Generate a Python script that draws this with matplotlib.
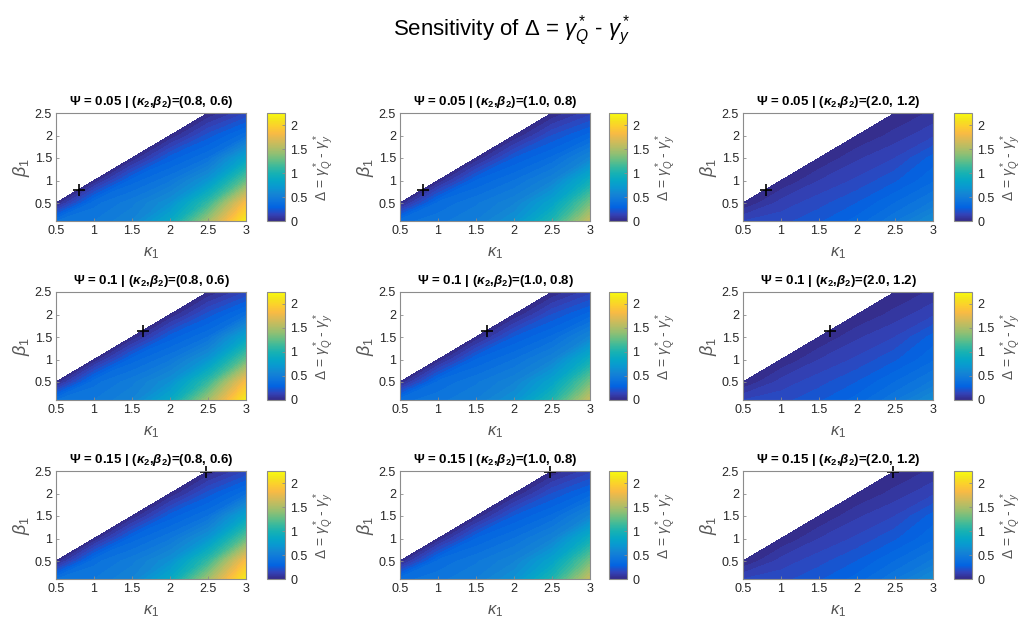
import numpy as np
import matplotlib
matplotlib.use("Agg")
import matplotlib.pyplot as plt
import matplotlib.tri as mtri
from matplotlib.colors import LinearSegmentedColormap

plt.rcParams['font.family'] = ['Liberation Sans', 'DejaVu Sans']
plt.rcParams['mathtext.fontset'] = 'custom'
plt.rcParams['mathtext.rm'] = 'Liberation Sans'
plt.rcParams['mathtext.it'] = 'Liberation Sans:italic'
plt.rcParams['mathtext.bf'] = 'Liberation Sans:bold:italic'
plt.rcParams['mathtext.sf'] = 'Liberation Sans:bold'

nan = np.nan

# grid
kappa1 = [0.5, 1.0, 1.5, 2.0, 2.5, 3.0]
beta1 = [0.1, 0.5, 1.0, 1.5, 2.0, 2.5]

# Delta values, rows = beta1, cols = kappa1 (blank above the diagonal)
deltaA = [[0.40, 0.45, 0.55, 0.85, 1.45, 2.15],
          [0.00, 0.38, 0.48, 0.65, 1.10, 1.85],
          [nan, 0.00, 0.32, 0.44, 0.68, 1.25],
          [nan, nan, 0.00, 0.27, 0.40, 0.80],
          [nan, nan, nan, 0.00, 0.22, 0.38],
          [nan, nan, nan, nan, 0.00, 0.15]]

deltaB = [[0.38, 0.43, 0.50, 0.66, 1.02, 1.60],
          [0.00, 0.36, 0.44, 0.54, 0.80, 1.30],
          [nan, 0.00, 0.30, 0.40, 0.54, 0.92],
          [nan, nan, 0.00, 0.25, 0.36, 0.56],
          [nan, nan, nan, 0.00, 0.20, 0.32],
          [nan, nan, nan, nan, 0.00, 0.13]]

deltaC = [[0.15, 0.18, 0.24, 0.32, 0.44, 0.62],
          [0.00, 0.12, 0.18, 0.25, 0.35, 0.46],
          [nan, 0.00, 0.10, 0.16, 0.24, 0.34],
          [nan, nan, 0.00, 0.09, 0.15, 0.27],
          [nan, nan, nan, 0.00, 0.07, 0.14],
          [nan, nan, nan, nan, 0.00, 0.06]]

psiValues = ["0.05", "0.1", "0.15"]
pairLabels = ["(0.8, 0.6)", "(1.0, 0.8)", "(2.0, 1.2)"]
columnData = [deltaA, deltaB, deltaC]
markerPos = [0.8, 1.64, 2.48]

parulaColors = [
    (0.2081, 0.1663, 0.5292), (0.1959, 0.2645, 0.7279), (0.0117, 0.3875, 0.8820),
    (0.0498, 0.4586, 0.8641), (0.0793, 0.5200, 0.8312), (0.0343, 0.5966, 0.8199),
    (0.0228, 0.6535, 0.7768), (0.0843, 0.6928, 0.7062), (0.2178, 0.7250, 0.6193),
    (0.3953, 0.7459, 0.5244), (0.5709, 0.7485, 0.4494), (0.7184, 0.7411, 0.3905),
    (0.8507, 0.7299, 0.3360), (0.9739, 0.7314, 0.2666), (0.9880, 0.8066, 0.1794),
    (0.9589, 0.8949, 0.1132), (0.9763, 0.9831, 0.0538)]
parula = LinearSegmentedColormap.from_list("parula", parulaColors)

cmax = 2.25
levels = np.linspace(0, cmax, 46)

fig = plt.figure(figsize=(10.24, 6.21), dpi=100)
W, H = 1024.0, 621.0

axLeft = [56, 400, 743]
cbLeft = [267, 609, 954]
axTop = [113, 292, 471]
axW, axH, cbW = 190, 108, 18

textColor = '#262626'
edgeColor = '#8c8c8c'


def buildTri(data):
    # split each grid cell along its lower-left / upper-right diagonal
    nb, nk = len(beta1), len(kappa1)
    xs, ys, zs, idx = [], [], [], {}
    for i in range(nb):
        for j in range(nk):
            if not np.isnan(data[i][j]):
                idx[(i, j)] = len(xs)
                xs.append(kappa1[j])
                ys.append(beta1[i])
                zs.append(data[i][j])
    tris = []
    for i in range(nb - 1):
        for j in range(nk - 1):
            for t in [[(i, j), (i, j + 1), (i + 1, j + 1)], [(i, j), (i + 1, j + 1), (i + 1, j)]]:
                if all(p in idx for p in t):
                    tris.append([idx[p] for p in t])
    return mtri.Triangulation(xs, ys, tris), np.array(zs)


for r in range(3):
    for c in range(3):
        bottom = 1 - (axTop[r] + axH) / H
        ax = fig.add_axes([axLeft[c] / W, bottom, axW / W, axH / H])
        tri, z = buildTri(columnData[c])
        ax.tricontourf(tri, z, levels=levels, cmap=parula, vmin=0, vmax=cmax)
        ax.plot(markerPos[r], markerPos[r], '+', color='k', ms=8, mew=1.2, clip_on=False)
        ax.set_xlim(0.5, 3)
        ax.set_ylim(0.1, 2.5)
        ax.set_xticks([0.5, 1, 1.5, 2, 2.5, 3])
        ax.set_xticklabels(['0.5', '1', '1.5', '2', '2.5', '3'])
        ax.set_yticks([0.5, 1, 1.5, 2, 2.5])
        ax.set_yticklabels(['0.5', '1', '1.5', '2', '2.5'])
        ax.tick_params(direction='in', length=2.5, width=0.6, colors=edgeColor,
                       labelcolor=textColor, labelsize=9, pad=3)
        for s in ax.spines.values():
            s.set_color(edgeColor)
            s.set_linewidth(0.8)
        ax.set_xlabel(r'$\kappa_1$', fontsize=12, color='#555555', labelpad=6)
        ax.set_ylabel(r'$\beta_1$', fontsize=13, color='#555555', labelpad=2)
        ax.set_title('Ψ = ' + psiValues[r] + r' | ($\mathbf{\kappa}_\mathsf{2}$,$\mathbf{\beta}_\mathsf{2}$)=' + pairLabels[c],
                     fontsize=9.5, fontweight='bold', color='k', pad=6)

        cax = fig.add_axes([cbLeft[c] / W, bottom, cbW / W, axH / H])
        cb = fig.colorbar(plt.cm.ScalarMappable(cmap=parula, norm=plt.Normalize(0, cmax)), cax=cax)
        cb.set_ticks([0, 0.5, 1, 1.5, 2])
        cb.set_ticklabels(['0', '0.5', '1', '1.5', '2'])
        cb.outline.set_edgecolor(edgeColor)
        cb.outline.set_linewidth(0.8)
        cax.tick_params(direction='in', length=2, width=0.6, colors=edgeColor,
                        labelcolor=textColor, labelsize=9, pad=4)
        cb.set_label(r'$\Delta$ = $\gamma^*_Q$ - $\gamma^*_y$', fontsize=10, color='#555555', labelpad=3)

fig.suptitle(r'Sensitivity of $\Delta$ = $\gamma^*_Q$ - $\gamma^*_y$', fontsize=16, y=0.978)

fig.savefig("out.png", dpi=100)
